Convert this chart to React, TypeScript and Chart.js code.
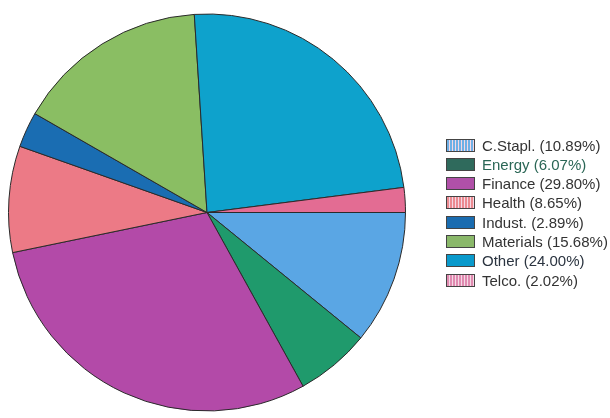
import React, { useEffect, useRef } from "react";
import { Chart, registerables } from "chart.js";

Chart.register(...registerables);

const categories = ["C.Stapl.", "Energy", "Finance", "Health", "Indust.", "Materials", "Other", "Telco."];
const shares = [10.89, 6.07, 29.8, 8.65, 2.89, 15.68, 24.0, 2.02];
const shareLabels = ["10.89%", "6.07%", "29.80%", "8.65%", "2.89%", "15.68%", "24.00%", "2.02%"];
const sliceColors = ["#5aa6e4", "#1f9a6c", "#b34aa8", "#ec7a86", "#1a6db2", "#8abe63", "#0ea2cc", "#e36c93"];
const legendBoxColors = ["#6fb0e6", "#2f6a5c", "#b050a8", "#ec8a90", "#1a6cb0", "#8ab86a", "#0a9acc", "#e08ab0"];
const legendTextColors = ["#333", "#2a6655", "#333", "#333", "#333", "#333", "#2b3440", "#333"];
const patterned = [true, false, false, true, false, false, false, true];

export default function App() {
  const canvasRef = useRef<HTMLCanvasElement | null>(null);

  useEffect(() => {
    const ctx = canvasRef.current!;
    const chart = new Chart(ctx, {
      type: "pie",
      data: {
        labels: categories,
        datasets: [
          {
            data: shares,
            backgroundColor: sliceColors,
            borderColor: "#2a2a2a",
            borderWidth: 1,
          },
        ],
      },
      options: {
        animation: false,
        responsive: false,
        rotation: 90,
        layout: { padding: { left: 8, right: 204, top: 12, bottom: 5 } },
        plugins: {
          legend: { display: false },
          tooltip: { enabled: false },
        },
      },
    });
    return () => chart.destroy();
  }, []);

  return (
    <div style={{ position: "absolute", left: 0, top: 0, width: 610, height: 418, background: "#fff" }}>
      <canvas ref={canvasRef} width={610} height={418} style={{ position: "absolute", left: 0, top: 0 }} />
      {categories.map((c, i) => (
        <div
          key={c}
          style={{
            position: "absolute",
            left: 446,
            top: 145 + i * 19.3 - 9,
            height: 18,
            display: "flex",
            alignItems: "center",
            fontFamily: "'Liberation Sans', Arial, sans-serif",
            fontSize: 15,
            color: legendTextColors[i],
            whiteSpace: "nowrap",
          }}
        >
          <span
            style={{
              display: "inline-block",
              width: 27,
              height: 11,
              border: "1px solid #444",
              background: patterned[i]
                ? `repeating-linear-gradient(90deg, ${legendBoxColors[i]} 0 2px, #f4d8e4 2px 3px), ${legendBoxColors[i]}`
                : legendBoxColors[i],
              marginRight: 7,
            }}
          />
          <span>{`${c} (${shareLabels[i]})`}</span>
        </div>
      ))}
    </div>
  );
}
